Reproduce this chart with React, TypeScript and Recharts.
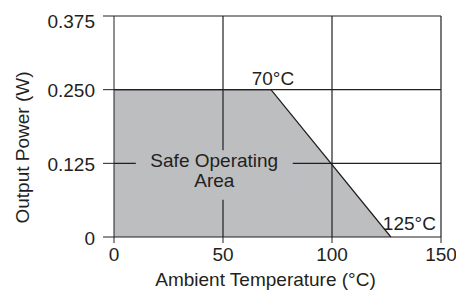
import {
  Area,
  AreaChart,
  ReferenceArea,
  ReferenceDot,
  ReferenceLine,
  XAxis,
  YAxis,
} from "recharts";

// derating curve
const TEMPS = [0, 72, 127];
const POWER = [0.25, 0.25, 0];

const X_TICKS = [0, 50, 100, 150];
const Y_TICKS = [0, 0.125, 0.25, 0.375];
const X_GRID = [50, 100, 150];
const Y_GRID = [0.125, 0.25, 0.375];

const CORNER_TEMP = [72, 127];
const CORNER_POWER = [0.25, 0];
const CORNER_TEXT = ["70°C", "125°C"];

const AREA_TEXT = ["Safe Operating", "Area"];
const AREA_BOX_X = [10, 82];
const AREA_BOX_Y = [0.063, 0.147];

const INK = "#231f20";
const FILL = "#bcbec0";
const FONT = "'Liberation Sans', Arial, Helvetica, sans-serif";
const SIZE = 19;

const data = TEMPS.map((t, i) => ({ temp: t, power: POWER[i] }));

const fmtY = (v: number) => (v === 0 ? "0" : v.toFixed(3));

// top label sits a little lower than its tick, like the original
const YTick = (p: any) => {
  const v = p.payload.value;
  const shift = v === 0.375 ? 5 : 1;
  return (
    <text
      x={p.x}
      y={p.y + shift}
      dy="0.355em"
      textAnchor="end"
      fill={INK}
      fontSize={SIZE}
      fontFamily={FONT}
    >
      {fmtY(v)}
    </text>
  );
};

export default function App() {
  return (
    <div style={{ position: "absolute", left: 0, top: 0, width: 456, height: 298, background: "#fff" }}>
      <AreaChart
        width={456}
        height={298}
        data={data}
        margin={{ top: 16, right: 15, left: 0, bottom: 0 }}
        style={{ fontFamily: FONT }}
      >
        <Area
          type="linear"
          dataKey="power"
          stroke={INK}
          strokeWidth={1.2}
          fill={FILL}
          fillOpacity={1}
          isAnimationActive={false}
          dot={false}
          activeDot={false}
        />
        {X_GRID.map((x) => (
          <ReferenceLine key={"x" + x} x={x} stroke={INK} strokeWidth={1.2} zIndex={450} />
        ))}
        {Y_GRID.map((y) => (
          <ReferenceLine key={"y" + y} y={y} stroke={INK} strokeWidth={1.2} zIndex={450} />
        ))}
        <ReferenceArea
          x1={AREA_BOX_X[0]}
          x2={AREA_BOX_X[1]}
          y1={AREA_BOX_Y[0]}
          y2={AREA_BOX_Y[1]}
          fill={FILL}
          fillOpacity={1}
          stroke="none"
          zIndex={480}
          label={(p: any) => {
            const vb = p.viewBox || {};
            const cx = vb.x + vb.width / 2;
            return (
              <g>
                {AREA_TEXT.map((t, i) => (
                  <text
                    key={t}
                    x={cx}
                    y={vb.y + 17 + i * 20}
                    textAnchor="middle"
                    fill={INK}
                    fontSize={SIZE}
                    fontFamily={FONT}
                  >
                    {t}
                  </text>
                ))}
              </g>
            );
          }}
        />
        {CORNER_TEXT.map((t, i) => (
          <ReferenceDot
            key={t}
            x={CORNER_TEMP[i]}
            y={CORNER_POWER[i]}
            zIndex={2000}
            shape={(p: any) =>
              i === 0 ? (
                <text x={p.cx + 2} y={p.cy - 5} textAnchor="middle" fill={INK} fontSize={SIZE} fontFamily={FONT}>
                  {t}
                </text>
              ) : (
                <text x={p.cx - 8} y={p.cy - 7} textAnchor="start" fill={INK} fontSize={SIZE} fontFamily={FONT}>
                  {t}
                </text>
              )
            }
          />
        ))}
        <XAxis
          dataKey="temp"
          type="number"
          domain={[0, 150]}
          ticks={X_TICKS}
          interval={0}
          height={61}
          stroke={INK}
          tickSize={6}
          tickMargin={5}
          tick={{ fill: INK, fontSize: SIZE, fontFamily: FONT }}
          label={{
            value: "Ambient Temperature (°C)",
            position: "insideBottom",
            offset: 12,
            dx: -12,
            fill: INK,
            fontSize: SIZE,
            fontFamily: FONT,
          }}
        />
        <YAxis
          type="number"
          domain={[0, 0.375]}
          ticks={Y_TICKS}
          interval={0}
          width={114}
          stroke={INK}
          tickSize={11}
          tickMargin={8}
          tick={<YTick />}
          label={{
            value: "Output Power (W)",
            angle: -90,
            position: "center",
            dx: -35,
            dy: 21,
            fill: INK,
            fontSize: SIZE,
            fontFamily: FONT,
          }}
        />
      </AreaChart>
    </div>
  );
}
